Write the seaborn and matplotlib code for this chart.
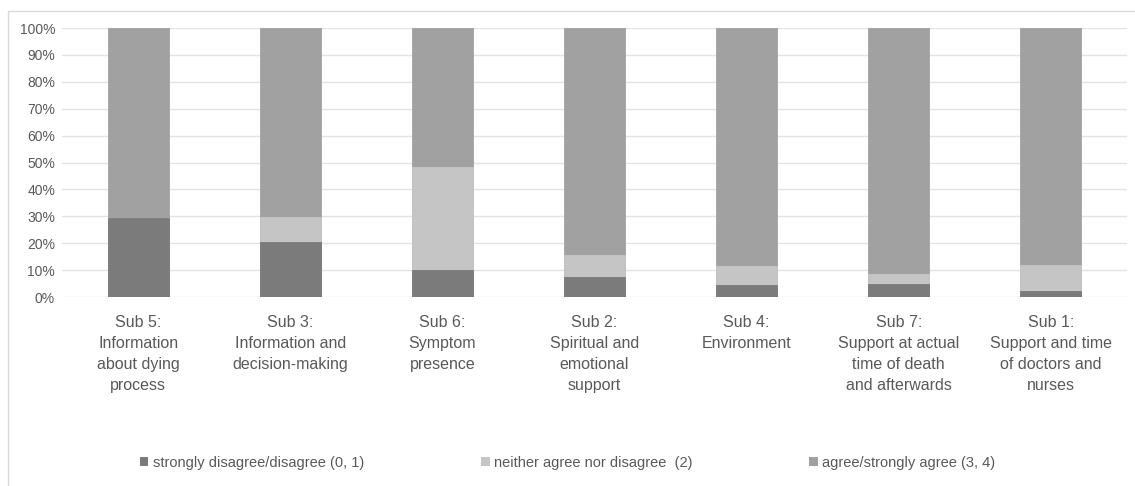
import numpy as np
import pandas as pd
import matplotlib.pyplot as plt
import seaborn as sns
from matplotlib.patches import Rectangle, Patch

# ========== Data ==========
categories = [
    "Sub 5:\nInformation\nabout dying\nprocess",
    "Sub 3:\nInformation and\ndecision-making",
    "Sub 6:\nSymptom\npresence",
    "Sub 2:\nSpiritual and\nemotional\nsupport",
    "Sub 4:\nEnvironment",
    "Sub 7:\nSupport at actual\ntime of death\nand afterwards",
    "Sub 1:\nSupport and time\nof doctors and\nnurses",
]
disagree = [29.5, 20.6, 9.9, 7.4, 4.6, 4.9, 2.3]
neutral = [0.0, 9.1, 38.4, 8.2, 7.0, 3.8, 9.6]
agree = [70.5, 70.3, 51.7, 84.4, 88.4, 91.3, 88.1]

series_names = [
    "strongly disagree/disagree (0, 1)",
    "neither agree nor disagree  (2)",
    "agree/strongly agree (3, 4)",
]
series_colors = ["#7b7b7b", "#c4c5c4", "#a1a1a1"]
text_color = "#595959"

sns.set_style("white")
plt.rcParams["font.family"] = ["Liberation Sans", "DejaVu Sans"]

df = pd.DataFrame({"category": categories, "disagree": disagree,
                   "neutral": neutral, "agree": agree})
# cumulative tops for overlay-stacking
df["top_agree"] = df["disagree"] + df["neutral"] + df["agree"]
df["top_neutral"] = df["disagree"] + df["neutral"]
df["top_disagree"] = df["disagree"]

fig = plt.figure(figsize=(11.35, 4.86), dpi=100)
ax = fig.add_axes([62 / 1135, 1 - 297 / 486, (1127 - 62) / 1135, (297 - 28) / 486])

for col, color in zip(["top_agree", "top_neutral", "top_disagree"], series_colors[::-1]):
    sns.barplot(data=df, x="category", y=col, color=color, width=0.4,
                saturation=1, edgecolor=color, linewidth=0.6, ax=ax)

ax.set_ylim(0, 100)
ax.set_xlim(-0.5, len(categories) - 0.5)
ax.set_yticks(np.arange(0, 101, 10))
ax.set_yticklabels([f"{v}%" for v in range(0, 101, 10)])
ax.yaxis.grid(True, color="#e3e3e3", linewidth=1)
ax.set_axisbelow(True)
for s in ax.spines.values():
    s.set_visible(False)
ax.set_xlabel("")
ax.set_ylabel("")
ax.tick_params(axis="y", length=0, pad=5, labelsize=10, labelcolor=text_color)
ax.tick_params(axis="x", length=0, pad=13, labelsize=11.5, labelcolor=text_color)
plt.setp(ax.get_xticklabels(), linespacing=1.5, va="top")

handles = [Patch(facecolor=c, edgecolor="none") for c in series_colors]
fig.legend(handles, series_names, loc="center", bbox_to_anchor=(0.5, 1 - 463 / 486),
           ncol=3, frameon=False, fontsize=10.5, labelcolor=text_color,
           handlelength=0.6, handleheight=0.6, handletextpad=0.3, columnspacing=8.0)

# chart area border
fig.patches.append(Rectangle((8 / 1135, -0.05), 1.1, 1 - 11 / 486 + 0.05,
                             transform=fig.transFigure, fill=False,
                             edgecolor="#d9d9d9", linewidth=1))

fig.savefig("out.png", dpi=100)
